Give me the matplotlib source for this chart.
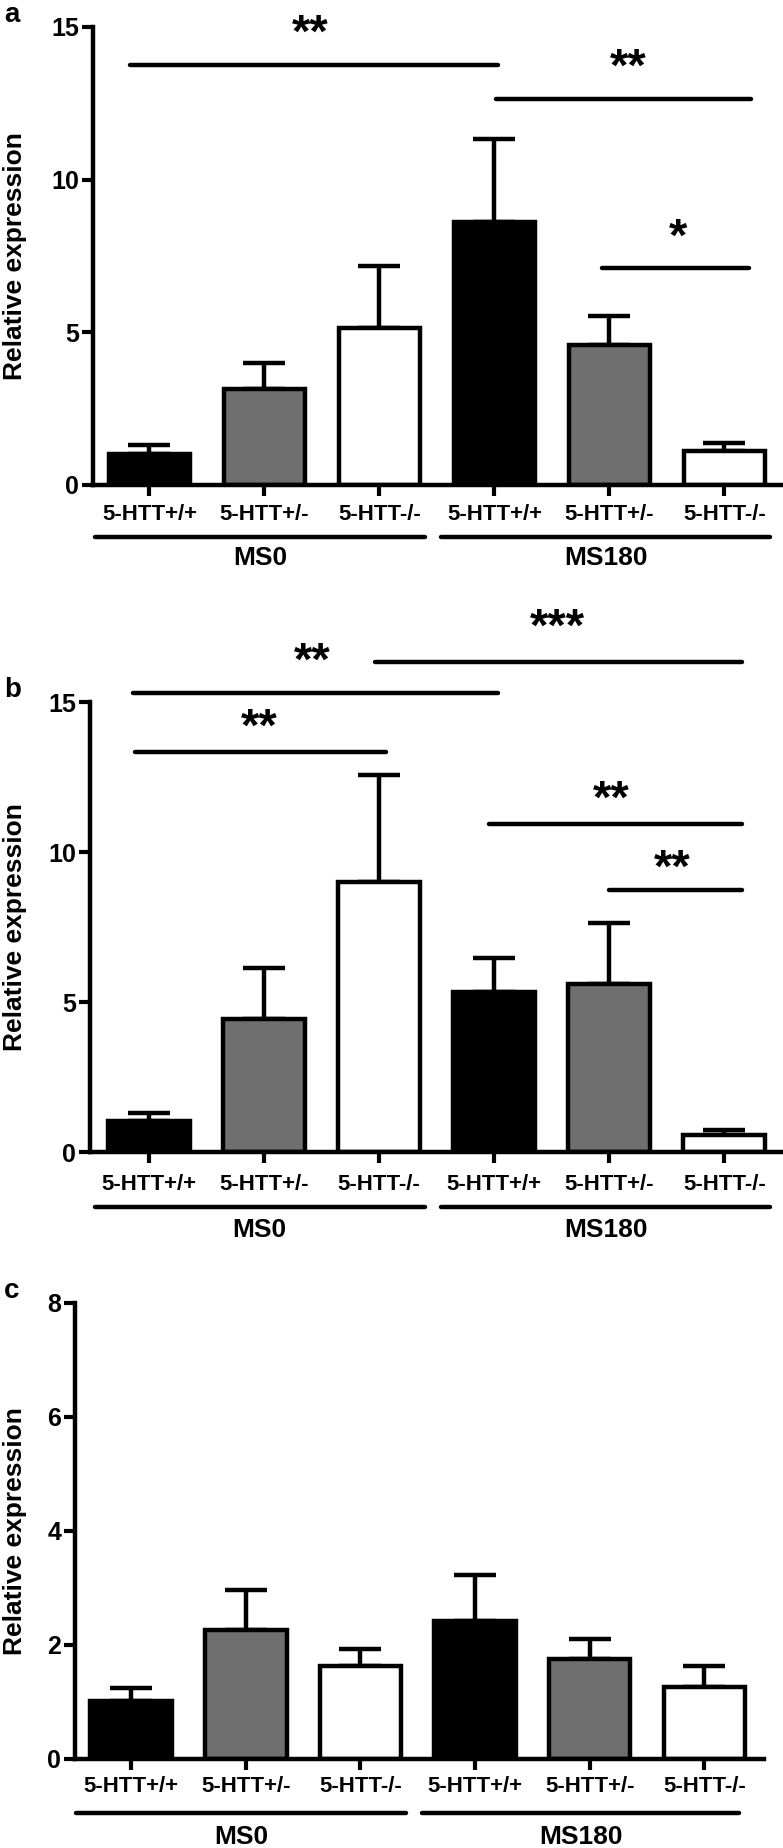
import matplotlib
matplotlib.use("Agg")
import matplotlib.pyplot as plt
import matplotlib.transforms as mtransforms
import numpy as np

plt.rcParams['font.family'] = ['Liberation Sans Narrow', 'Liberation Sans', 'DejaVu Sans']
plt.rcParams['font.weight'] = 'bold'

# data
genotypes = ["5-HTT+/+", "5-HTT+/-", "5-HTT-/-", "5-HTT+/+", "5-HTT+/-", "5-HTT-/-"]
groups = ["MS0", "MS180"]
bar_colors = ["black", "#6f6f6f", "white", "black", "#6f6f6f", "white"]

means_a = [1.0, 3.13, 5.15, 8.6, 4.59, 1.11]
sem_a = [0.30, 0.85, 2.02, 2.74, 0.95, 0.26]
means_b = [1.02, 4.43, 9.0, 5.34, 5.6, 0.58]
sem_b = [0.28, 1.69, 3.58, 1.13, 2.04, 0.16]
means_c = [1.01, 2.27, 1.64, 2.42, 1.76, 1.27]
sem_c = [0.24, 0.69, 0.29, 0.80, 0.34, 0.36]

# significance bars: (x start, x end, y level, label, label x, label y)
sig_a = [(-0.17, 3.03, 13.75, "**", 1.40, 14.75),
         (3.01, 5.23, 12.65, "**", 4.16, 13.65),
         (3.94, 5.21, 7.1, "*", 4.60, 8.05)]
sig_b = [(1.97, 5.15, 16.34, "***", 3.55, 17.45),
         (-0.14, 3.03, 15.29, "**", 1.42, 16.3),
         (-0.12, 2.06, 13.32, "**", 0.96, 14.1),
         (2.96, 5.15, 10.92, "**", 4.02, 11.7),
         (4.0, 5.15, 8.73, "**", 4.55, 9.4)]

W, H = 783, 1848
fig = plt.figure(figsize=(W / 100, H / 100), dpi=100)


def make_axis(left_px, right_px, zero_px, top_px, xlim, ylim, yticks,
              means, sems, sig, panel, label_dy, line_dy, group_dy, groupline_x):
    axis = fig.add_axes([left_px / W, 1 - zero_px / H,
                         (right_px - left_px) / W, (zero_px - top_px) / H])
    x = np.arange(len(means))
    axis.errorbar(x, means, yerr=[np.zeros(len(sems)), sems], fmt="none",
                  ecolor="black", elinewidth=3.2, capsize=15, capthick=3.2, zorder=1)
    axis.bar(x, means, width=0.71, color=bar_colors, edgecolor="black",
             linewidth=3.2, zorder=2)
    axis.set_xlim(*xlim)
    axis.set_ylim(*ylim)
    axis.set_yticks(yticks)
    axis.set_xticks(x)
    axis.set_xticklabels([])
    for side in ("top", "right"):
        axis.spines[side].set_visible(False)
    for side in ("left", "bottom"):
        axis.spines[side].set_linewidth(3.2)
    axis.tick_params(axis="both", direction="out", width=3, length=8, labelsize=18)
    axis.tick_params(axis="y", pad=2)

    fig.text(15 / W, 1 - (zero_px + top_px) / 2 / H, "Relative expression",
             rotation=90, ha="center", va="center", fontsize=19, fontweight="bold")

    trans = axis.get_xaxis_transform()
    label_tr = mtransforms.offset_copy(trans, fig=fig, y=-label_dy, units="dots")
    line_tr = mtransforms.offset_copy(trans, fig=fig, y=-line_dy, units="dots")
    group_tr = mtransforms.offset_copy(trans, fig=fig, y=-group_dy, units="dots")
    for pos, name in zip(x, genotypes):
        axis.text(pos, 0, name, transform=label_tr, ha="center", va="center",
                  fontsize=16, fontweight="bold")
    for (x0, x1), name in zip(groupline_x, groups):
        axis.plot([x0, x1], [0, 0], transform=line_tr, color="black",
                  linewidth=3.2, clip_on=False, solid_capstyle="round")
        axis.text((x0 + x1) / 2, 0, name, transform=group_tr, ha="center",
                  va="center", fontsize=19, fontweight="bold")

    for x0, x1, level, star, sx, sy in sig:
        axis.plot([x0, x1], [level, level], color="black", linewidth=3.2,
                  clip_on=False, solid_capstyle="round")
        axis.text(sx, sy, star, ha="center", va="center", fontsize=34,
                  fontweight="bold", clip_on=False)

    fig.text(4 / W, 1 - (top_px - 12) / H, panel, fontsize=20, fontweight="bold",
             ha="left", va="center")
    return axis


make_axis(93, 783, 485, 27, (-0.49, 5.51), (0, 15), [0, 5, 10, 15],
          means_a, sem_a, sig_a, "a", 30, 52, 73, [(-0.47, 2.4), (2.54, 5.4)])
make_axis(90, 783, 1152, 702, (-0.51, 5.51), (0, 15), [0, 5, 10, 15],
          means_b, sem_b, sig_b, "b", 33, 55, 78, [(-0.47, 2.4), (2.54, 5.4)])
make_axis(75, 764, 1759, 1303, (-0.49, 5.52), (0, 8), [0, 2, 4, 6, 8],
          means_c, sem_c, [], "c", 28, 54, 78, [(-0.48, 2.4), (2.54, 5.3)])

fig.savefig("out.png", dpi=100)
